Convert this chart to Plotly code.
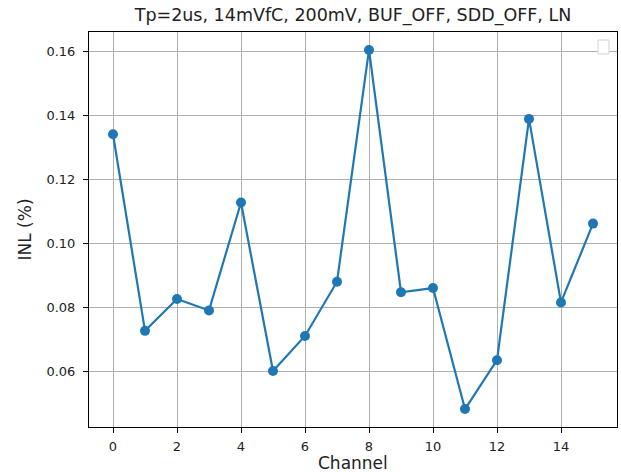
import plotly.graph_objects as go

# INL per channel
channels = list(range(16))
inl_pct = [0.1342, 0.0726, 0.0826, 0.0790, 0.1128, 0.0600, 0.0710, 0.0880,
           0.1606, 0.0847, 0.0860, 0.0481, 0.0634, 0.1390, 0.0815, 0.1062]

x_ticks = [0, 2, 4, 6, 8, 10, 12, 14]
y_ticks = [0.06, 0.08, 0.10, 0.12, 0.14, 0.16]
y_tick_text = ["0.06", "0.08", "0.10", "0.12", "0.14", "0.16"]

title_text = "Tp=2us, 14mVfC, 200mV, BUF_OFF, SDD_OFF, LN"
x_label = "Channel"
y_label = "INL (%)"

blue = "#1f77b4"
font_family = "DejaVu Sans"
text_color = "#222"

fig = go.Figure()
fig.add_trace(go.Scatter(
    x=channels, y=inl_pct, mode="lines+markers",
    line=dict(color=blue, width=2.2),
    marker=dict(color=blue, size=10),
    showlegend=False,
))

ymin, ymax = min(inl_pct), max(inl_pct)
pad = (ymax - ymin) * 0.05

axis_common = dict(
    showline=True, linecolor="black", linewidth=1, mirror=True,
    ticks="outside", ticklen=5, tickwidth=1, tickcolor="black",
    showgrid=True, gridcolor="#b0b0b0", gridwidth=1,
    zeroline=False, automargin=False,
    tickfont=dict(family=font_family, size=13, color=text_color),
)

plot_h = 472 - 32 - 45

fig.update_layout(
    width=621, height=472,
    margin=dict(l=89, r=4, t=32, b=45),
    paper_bgcolor="white", plot_bgcolor="white",
    title=dict(text=title_text, x=(89 + 617) / 2 / 621, xanchor="center",
               y=1 - 15 / 472, yanchor="middle",
               font=dict(family=font_family, size=17.5, color=text_color)),
    xaxis=dict(range=[-0.75, 15.75], tickvals=x_ticks, ticklabelstandoff=2,
               **axis_common),
    yaxis=dict(range=[ymin - pad, ymax + pad], tickvals=y_ticks, ticktext=y_tick_text,
               ticklabelstandoff=5,
               title=dict(text=y_label, standoff=10,
                          font=dict(family=font_family, size=17, color=text_color)),
               **axis_common),
)

# x-axis label placed below the tick labels
fig.add_annotation(text=x_label, xref="paper", yref="paper",
                   x=0.5, y=-36 / plot_h, xanchor="center", yanchor="middle",
                   showarrow=False,
                   font=dict(family=font_family, size=17, color=text_color))

# empty legend frame in the upper-right corner
fig.add_shape(type="rect", xref="paper", yref="paper",
              x0=1 - 19 / 528, x1=1 - 8 / 528, y0=1 - 22 / 395, y1=1 - 8 / 395,
              line=dict(color="#d0d0d0", width=1), fillcolor="white")

fig.write_html("out.html")
